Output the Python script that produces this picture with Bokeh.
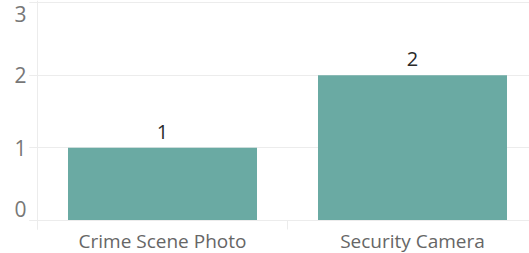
from bokeh.plotting import figure
from bokeh.models import Range1d, FixedTicker, ColumnDataSource
from bokeh.core.properties import value
from bokeh.embed import file_html
from bokeh.resources import INLINE

categories = ["Crime Scene Photo", "Security Camera"]
counts = [1, 2]
y_ticks = [0, 1, 2, 3]

W, H = 529, 253
# pixel layout of the plotting area (matches the reference)
px_left, px_top, px_zero, px_axis_bottom = 37, 2, 220, 229
cat_px = 250.0
y_px = (px_zero - px_top) / (y_ticks[-1] - y_ticks[0])

x_start = -px_left / cat_px
x_end = (W - px_left) / cat_px
y_end = y_ticks[-1] + px_top / y_px
y_start = y_ticks[0] - (H - px_zero) / y_px
y_axis_low = y_ticks[0] - (px_axis_bottom - px_zero) / y_px

positions = [i + 0.5 for i in range(len(categories))]
separators = [float(i) for i in range(len(categories) + 1)]

src = ColumnDataSource(dict(x=positions, top=counts, label=[str(c) for c in counts]))
end_src = ColumnDataSource(dict(
    x=[0, 0], y=[y_ticks[0], y_ticks[-1]],
    text=[str(y_ticks[0]), str(y_ticks[-1])],
    base=["bottom", "top"], yoff=[-4, 3]))

p = figure(width=W, height=H, output_backend="svg", toolbar_location=None,
           x_range=Range1d(x_start, x_end), y_range=Range1d(y_start, y_end),
           min_border_left=0, min_border_right=0, min_border_top=0, min_border_bottom=0)
p.outline_line_color = None
p.background_fill_color = "white"
p.border_fill_color = "white"

grid_col = "#ececec"
label_col = "#777777"

p.vbar(x="x", top="top", bottom=0, width=0.756, source=src,
       fill_color="#6aaaa3", line_color=None)
p.text(x="x", y="top", text="label", source=src, text_align="center",
       text_baseline="bottom", y_offset=-9, text_font_size="20px",
       text_color="#2a2a2a", text_font=value("Open Sans"))

p.xgrid.visible = False
p.ygrid.ticker = FixedTicker(ticks=y_ticks)
p.ygrid.grid_line_color = grid_col
if "cross_bounds" in p.ygrid.properties():
    p.ygrid.cross_bounds = (-8 / cat_px, x_end)

ya = p.yaxis[0]
ya.fixed_location = 0
ya.bounds = (y_axis_low, y_end)
ya.ticker = FixedTicker(ticks=y_ticks)
ya.axis_line_color = grid_col
ya.major_tick_line_color = grid_col
ya.major_tick_out = 8
ya.major_tick_in = 0
ya.minor_tick_line_color = None
ya.major_label_standoff = 3
ya.major_label_text_font = "Open Sans"
ya.major_label_text_font_size = "21px"
ya.major_label_text_color = label_col
# end ticks get their labels nudged inside the plot, as in the original
ya.major_label_overrides = {y_ticks[0]: "", y_ticks[-1]: ""}
p.text(x="x", y="y", text="text", source=end_src, x_offset=-11, y_offset="yoff",
       text_align="right", text_baseline="base", text_font=value("Open Sans"),
       text_font_size="21px", text_color=label_col)

xa = p.xaxis[0]
xa.fixed_location = 0
xa.bounds = (-8 / cat_px, x_end)
xa.ticker = FixedTicker(ticks=positions, minor_ticks=separators)
xa.major_label_overrides = {pos: cat for pos, cat in zip(positions, categories)}
xa.axis_line_color = grid_col
xa.major_tick_line_color = None
xa.major_tick_out = 0
xa.major_tick_in = 0
xa.minor_tick_line_color = grid_col
xa.minor_tick_out = 9
xa.minor_tick_in = 0
xa.major_label_standoff = -2
xa.major_label_text_font = "Open Sans"
xa.major_label_text_font_size = "19px"
xa.major_label_text_color = "#666666"

open("out.html", "w").write(file_html(p, INLINE))
